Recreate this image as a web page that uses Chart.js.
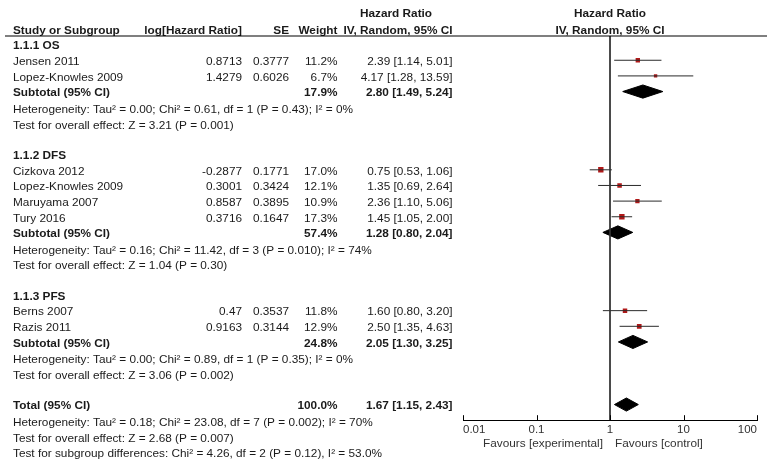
<!DOCTYPE html>
<html>
<head>
<meta charset="utf-8">
<script src="https://cdn.jsdelivr.net/npm/chart.js@4/dist/chart.umd.min.js"></script>
<style>
  body { margin: 0; background: #fff; }
  #wrap { width: 772px; height: 464px; }
</style>
</head>
<body>
<div id="wrap"><canvas id="forest" width="772" height="464"></canvas></div>
<script>
// study level data
const studyNames = ['Jensen 2011', 'Lopez-Knowles 2009', 'Cizkova 2012', 'Lopez-Knowles 2009', 'Maruyama 2007', 'Tury 2016', 'Berns 2007', 'Razis 2011'];
const studyRows = [1, 2, 8, 9, 10, 11, 17, 18];
const logHR = [0.8713, 1.4279, -0.2877, 0.3001, 0.8587, 0.3716, 0.47, 0.9163];
const se = [0.3777, 0.6026, 0.1771, 0.3424, 0.3895, 0.1647, 0.3537, 0.3144];
const weight = [11.2, 6.7, 17.0, 12.1, 10.9, 17.3, 11.8, 12.9];
const hr = [2.39, 4.17, 0.75, 1.35, 2.36, 1.45, 1.60, 2.50];
const lo = [1.14, 1.28, 0.53, 0.69, 1.10, 1.05, 0.80, 1.35];
const hi = [5.01, 13.59, 1.06, 2.64, 5.06, 2.00, 3.20, 4.63];

// pooled estimates
const pooledLabels = ['Subtotal (95% CI)', 'Subtotal (95% CI)', 'Subtotal (95% CI)', 'Total (95% CI)'];
const pooledRows = [3, 12, 19, 23];
const pooledWeight = [17.9, 57.4, 24.8, 100.0];
const pooledHR = [2.80, 1.28, 2.05, 1.67];
const pooledLo = [1.49, 0.80, 1.30, 1.15];
const pooledHi = [5.24, 2.04, 3.25, 2.43];

const groupTitles = ['1.1.1 OS', '1.1.2 DFS', '1.1.3 PFS'];
const groupRows = [0, 7, 16];

const noteRows = [4, 5, 13, 14, 20, 21, 24, 25, 26];
const noteTexts = [
    'Heterogeneity: Tau² = 0.00; Chi² = 0.61, df = 1 (P = 0.43); I² = 0%',
    'Test for overall effect: Z = 3.21 (P = 0.001)',
    'Heterogeneity: Tau² = 0.16; Chi² = 11.42, df = 3 (P = 0.010); I² = 74%',
    'Test for overall effect: Z = 1.04 (P = 0.30)',
    'Heterogeneity: Tau² = 0.00; Chi² = 0.89, df = 1 (P = 0.35); I² = 0%',
    'Test for overall effect: Z = 3.06 (P = 0.002)',
    'Heterogeneity: Tau² = 0.18; Chi² = 23.08, df = 7 (P = 0.002); I² = 70%',
    'Test for overall effect: Z = 2.68 (P = 0.007)',
    'Test for subgroup differences: Chi² = 4.26, df = 2 (P = 0.12), I² = 53.0%'
];

const xTicks = [0.01, 0.1, 1, 10, 100];
const xTickLabels = ['0.01', '0.1', '1', '10', '100'];
const favourLeft = 'Favours [experimental]';
const favourRight = 'Favours [control]';

const FONT = '"Liberation Sans", Arial, sans-serif';
const TEXT = '#1a1a1a';
const RED = '#b01818';

const ci = (a, b, c) => a.toFixed(2) + ' [' + b.toFixed(2) + ', ' + c.toFixed(2) + ']';

const datasets = [];

// line of no effect
datasets.push({
    data: [{ x: 1, y: -0.55 }, { x: 1, y: 24 }],
    showLine: true, borderColor: '#333', borderWidth: 1, pointRadius: 0
});

// confidence intervals
studyNames.forEach((n, i) => {
    datasets.push({
        data: [{ x: lo[i], y: studyRows[i] }, { x: hi[i], y: studyRows[i] }],
        showLine: true, borderColor: '#2a2a2a', borderWidth: 1, pointRadius: 0
    });
});

// study squares, side grows with weight
datasets.push({
    data: studyNames.map((n, i) => ({ x: hr[i], y: studyRows[i] })),
    pointStyle: 'rect',
    pointRadius: weight.map(w => 1.3 * Math.sqrt(w) / Math.SQRT2),
    backgroundColor: RED, borderColor: RED, borderWidth: 0
});

// diamonds
pooledRows.forEach((r, i) => {
    datasets.push({
        data: [
            { x: pooledLo[i], y: r }, { x: pooledHR[i], y: r - 0.42 },
            { x: pooledHi[i], y: r }, { x: pooledHR[i], y: r + 0.42 },
            { x: pooledLo[i], y: r }
        ],
        showLine: true, fill: 'shape', backgroundColor: '#000',
        borderColor: '#000', borderWidth: 1, pointRadius: 0, tension: 0
    });
});

const tablePlugin = {
    id: 'table',
    afterDraw(chart) {
        const ctx = chart.ctx;
        const xs = chart.scales.x;
        const ys = chart.scales.y;
        const yAt = r => ys.getPixelForValue(r) + 1.5;
        const put = (t, x, y, align, bold) => {
            ctx.font = (bold ? 'bold ' : '') + '11.8px ' + FONT;
            ctx.fillStyle = TEXT;
            ctx.textAlign = align;
            ctx.textBaseline = 'middle';
            ctx.fillText(t, x, y);
        };
        const xOne = xs.getPixelForValue(1);
        const cLeft = 13, cLog = 242, cSe = 289, cW = 337.5, cCi = 452.5;

        ctx.save();
        // headers
        put('Hazard Ratio', 396, yAt(-2) - 1, 'center', true);
        put('Hazard Ratio', xOne, yAt(-2) - 1, 'center', true);
        put('Study or Subgroup', cLeft, yAt(-1), 'left', true);
        put('log[Hazard Ratio]', cLog, yAt(-1), 'right', true);
        put('SE', cSe, yAt(-1), 'right', true);
        put('Weight', cW, yAt(-1), 'right', true);
        put('IV, Random, 95% CI', cCi, yAt(-1), 'right', true);
        put('IV, Random, 95% CI', xOne, yAt(-1), 'center', true);

        ctx.strokeStyle = '#000';
        ctx.lineWidth = 1.2;
        ctx.beginPath();
        ctx.moveTo(5, chart.chartArea.top);
        ctx.lineTo(767, chart.chartArea.top);
        ctx.stroke();

        groupTitles.forEach((g, i) => put(g, cLeft, yAt(groupRows[i]), 'left', true));
        studyNames.forEach((n, i) => {
            const y = yAt(studyRows[i]);
            put(n, cLeft, y, 'left', false);
            put(String(logHR[i]), cLog, y, 'right', false);
            put(String(se[i]), cSe, y, 'right', false);
            put(weight[i].toFixed(1) + '%', cW, y, 'right', false);
            put(ci(hr[i], lo[i], hi[i]), cCi, y, 'right', false);
        });
        pooledLabels.forEach((n, i) => {
            const y = yAt(pooledRows[i]);
            put(n, cLeft, y, 'left', true);
            put(pooledWeight[i].toFixed(1) + '%', cW, y, 'right', true);
            put(ci(pooledHR[i], pooledLo[i], pooledHi[i]), cCi, y, 'right', true);
        });
        noteTexts.forEach((t, i) => put(t, cLeft, yAt(noteRows[i]) + 1, 'left', false));

        // tick marks pointing up
        ctx.strokeStyle = '#000';
        ctx.lineWidth = 1;
        xTicks.forEach(v => {
            const x = Math.round(xs.getPixelForValue(v)) + 0.5;
            ctx.beginPath();
            ctx.moveTo(x, xs.top);
            ctx.lineTo(x, xs.top - 5);
            ctx.stroke();
        });

        const yFav = xs.top + 24;
        ctx.font = '11.8px ' + FONT;
        ctx.fillStyle = '#333';
        ctx.textBaseline = 'middle';
        ctx.textAlign = 'right';
        ctx.fillText(favourLeft, xOne - 7, yFav);
        ctx.textAlign = 'left';
        ctx.fillText(favourRight, xOne + 5, yFav);
        ctx.restore();
    }
};

new Chart(document.getElementById('forest').getContext('2d'), {
    type: 'scatter',
    data: { datasets: datasets },
    options: {
        responsive: false,
        animation: false,
        layout: { padding: { left: 463, right: 15, top: 36, bottom: 24 } },
        plugins: { legend: { display: false }, tooltip: { enabled: false } },
        scales: {
            x: {
                type: 'logarithmic',
                min: 0.01,
                max: 100,
                afterBuildTicks: s => { s.ticks = xTicks.map(v => ({ value: v })); },
                ticks: {
                    align: 'inner',
                    padding: 3,
                    color: '#333',
                    font: { family: FONT, size: 11.5 },
                    callback: v => xTickLabels[xTicks.indexOf(v)] || ''
                },
                grid: { drawOnChartArea: false, drawTicks: false },
                border: { display: true, color: '#000', width: 1 }
            },
            y: {
                display: false,
                reverse: true,
                min: -0.55,
                max: 24
            }
        }
    },
    plugins: [tablePlugin]
});
</script>
</body>
</html>
